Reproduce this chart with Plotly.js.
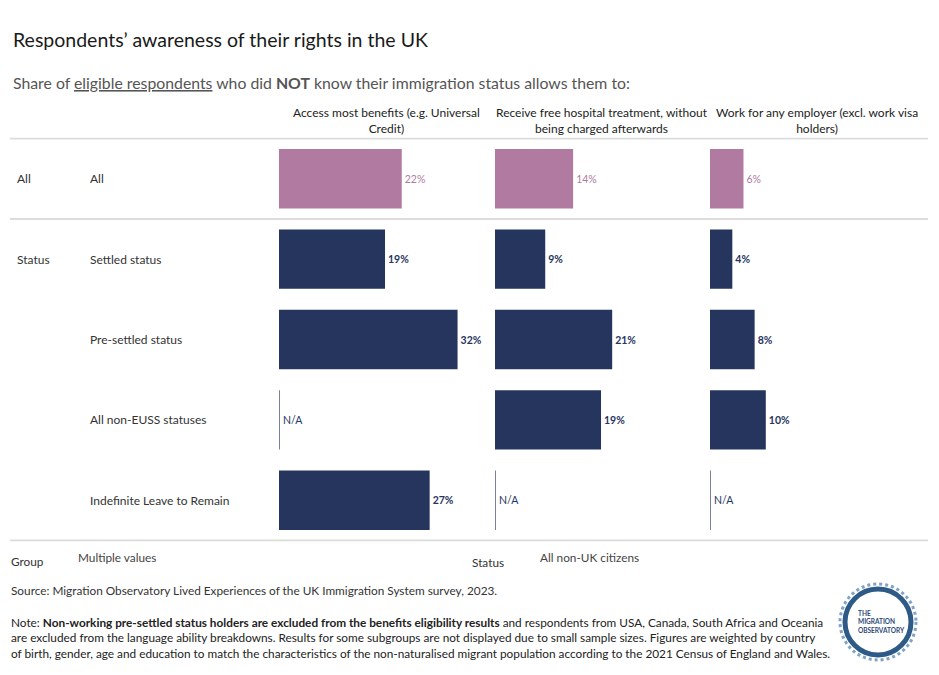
<!DOCTYPE html>
<html>
<head>
<meta charset="utf-8">
<script src="https://cdn.plot.ly/plotly-3.0.1.min.js"></script>
<style>html,body{margin:0;padding:0;background:#fff;}#chart{width:939px;height:675px;}</style>
</head>
<body>
<div id="chart"></div>
<script>
// ---- data ----
var categories = ['All', 'Settled status', 'Pre-settled status', 'All non-EUSS statuses', 'Indefinite Leave to Remain'];
var groups = ['All', 'Status', 'Status', 'Status', 'Status'];
var benefits = [22, 19, 32, null, 27];
var hospital = [14, 9, 21, 19, null];
var work = [6, 4, 8, 10, null];
var columnHeaders = ['Access most benefits (e.g. Universal<br>Credit)',
                     'Receive free hospital treatment, without<br>being charged afterwards',
                     'Work for any employer (excl. work visa<br>holders)'];

var W = 939, H = 675;
var PINK = '#b07aa1', NAVY = '#25355e';
var FONT = 'Lato, "Noto Sans", sans-serif';
var series = [benefits, hospital, work];
var panelLeft = [279, 495, 710];
var panelW = 211;
var xMax = panelW / 5.58;
var plotTop = 137.6, plotBot = 541.4;

var colors = categories.map(function (c, i) { return i === 0 ? PINK : NAVY; });
var traces = [], shapes = [], annotations = [];
var layout = {
  width: W, height: H, margin: {l: 0, r: 0, t: 0, b: 0},
  paper_bgcolor: '#fff', plot_bgcolor: 'rgba(0,0,0,0)',
  showlegend: false, bargap: 0.26,
  font: {family: FONT, color: '#333'},
  yaxis: {type: 'category', categoryarray: categories, autorange: 'reversed',
          domain: [1 - plotBot / H, 1 - plotTop / H], showticklabels: false,
          showgrid: false, zeroline: false, showline: false, fixedrange: true}
};

series.forEach(function (vals, k) {
  var ax = k === 0 ? 'x' : 'x' + (k + 1);
  var axName = k === 0 ? 'xaxis' : 'xaxis' + (k + 1);
  layout[axName] = {domain: [panelLeft[k] / W, (panelLeft[k] + panelW) / W], range: [0, xMax],
                    showticklabels: false, showgrid: false, zeroline: false, showline: false, fixedrange: true};
  traces.push({
    type: 'bar', orientation: 'h', x: vals, y: categories, xaxis: ax, yaxis: 'y',
    marker: {color: colors, line: {width: 0}},
    text: vals.map(function (v, i) { return v === null ? '' : (i === 0 ? v + '%' : '<b>' + v + '%</b>'); }),
    textposition: 'outside', cliponaxis: false,
    outsidetextfont: {family: FONT, size: 10.5, color: colors},
    hoverinfo: 'skip'
  });
  vals.forEach(function (v, i) {
    if (v === null) {
      shapes.push({type: 'line', xref: ax, yref: 'y', x0: 0, x1: 0, y0: i - 0.37, y1: i + 0.37,
                   line: {color: '#4a5682', width: 1.5}});
      annotations.push({xref: ax, yref: 'y', x: 0, y: categories[i], text: 'N/A', showarrow: false,
                        xanchor: 'left', xshift: 2, font: {family: FONT, size: 10.5, color: NAVY}});
    }
  });
  annotations.push({xref: 'paper', yref: 'paper', x: (panelLeft[k] + 107) / W, y: 1 - 103 / H,
                    xanchor: 'center', yanchor: 'top', align: 'center', text: columnHeaders[k],
                    showarrow: false, font: {family: FONT, size: 12, color: '#222'}});
});

// row labels
categories.forEach(function (c, i) {
  annotations.push({xref: 'paper', yref: 'y', x: 88 / W, y: c, xanchor: 'left', text: c,
                    showarrow: false, font: {family: FONT, size: 12, color: '#333'}});
  if (i === 0 || groups[i] !== groups[i - 1]) {
    annotations.push({xref: 'paper', yref: 'y', x: 15 / W, y: c, xanchor: 'left', text: groups[i],
                      showarrow: false, font: {family: FONT, size: 12, color: '#333'}});
  }
});

// separator lines
[-0.5, 0.5, categories.length - 0.5].forEach(function (yv) {
  shapes.push({type: 'line', xref: 'paper', yref: 'y', x0: 10 / W, x1: 928 / W, y0: yv, y1: yv,
               line: {color: '#dcdcdc', width: 2}});
});

function txt(x, y, t, size, color, extra) {
  var a = {xref: 'paper', yref: 'paper', x: x / W, y: 1 - y / H, xanchor: 'left', yanchor: 'middle',
           align: 'left', text: t, showarrow: false, font: {family: FONT, size: size, color: color}};
  if (extra) for (var k in extra) a[k] = extra[k];
  annotations.push(a);
}
txt(11, 40, 'Respondents\u2019 awareness of their rights in the UK', 19.5, '#1a1a1a');
txt(11, 83, 'Share of <span style="text-decoration:underline">eligible respondents</span> who did <b>NOT</b> know their immigration status allows them to:', 15.8, '#555');
txt(9, 561, 'Group', 11.8, '#333');
txt(76, 557, 'Multiple values', 11.8, '#444');
txt(470, 562, 'Status', 11.8, '#333');
txt(538, 557, 'All non-UK citizens', 11.8, '#444');
txt(9, 590, 'Source: Migration Observatory Lived Experiences of the UK Immigration System survey, 2023.', 11.8, '#333');
txt(9, 638, 'Note: <b>Non-working pre-settled status holders are excluded from the benefits eligibility results</b> and respondents from USA, Canada, South Africa and Oceania<br>are excluded from the language ability breakdowns. Results for some subgroups are not displayed due to small sample sizes. Figures are weighted by country<br>of birth, gender, age and education to match the characteristics of the non-naturalised migrant population according to the 2021 Census of England and Wales.', 11.8, '#222');

// logo
shapes.push({type: 'circle', xref: 'paper', yref: 'paper', x0: 845 / W, x1: 911 / W, y0: 1 - 655 / H, y1: 1 - 589 / H,
             line: {color: '#2e5a88', width: 5}});
shapes.push({type: 'circle', xref: 'paper', yref: 'paper', x0: 840 / W, x1: 916 / W, y0: 1 - 660 / H, y1: 1 - 584 / H,
             line: {color: '#7fa3c6', width: 3, dash: 'dot'}});
txt(856, 622, '<b>THE<br>MIGRATION<br>OBSERVATORY</b>', 6.5, '#2c4a78');

layout.shapes = shapes;
layout.annotations = annotations;
Plotly.newPlot('chart', traces, layout, {displayModeBar: false, staticPlot: true});
</script>
</body>
</html>
